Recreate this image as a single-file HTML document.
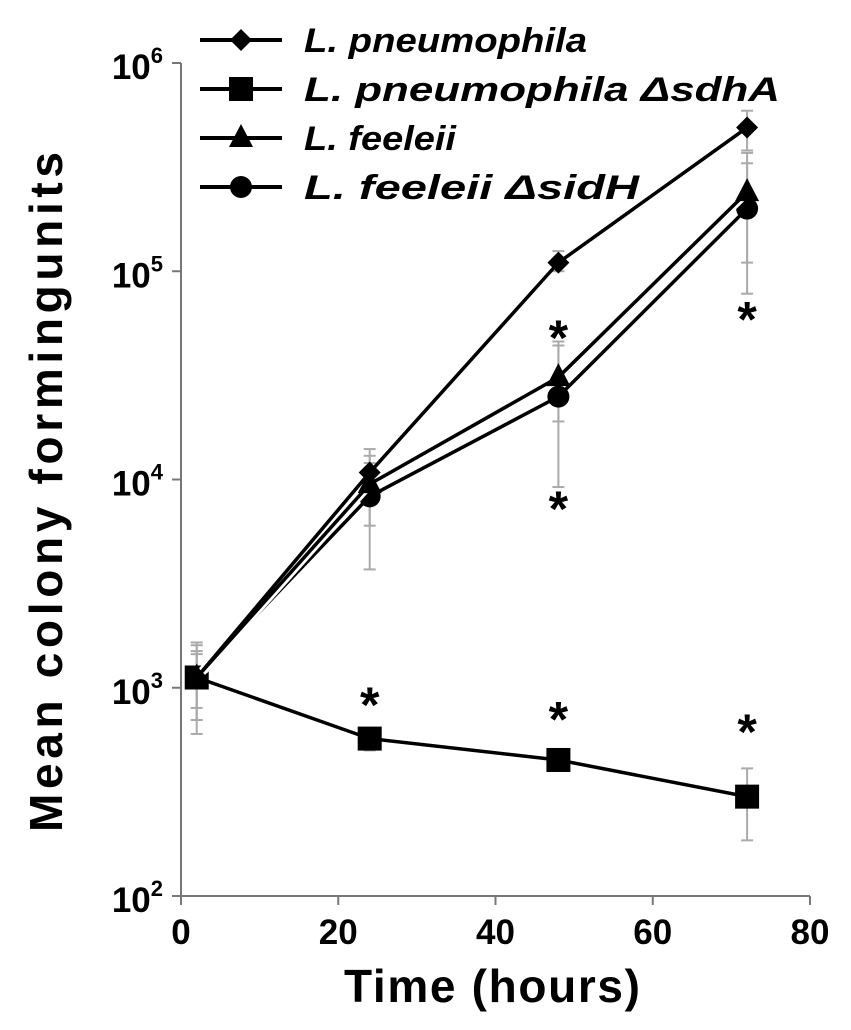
<!DOCTYPE html>
<html><head><meta charset="utf-8"><style>
html,body{margin:0;padding:0;background:#fff;}
svg{display:block;font-family:"Liberation Sans",sans-serif;}
</style></head><body>
<svg id="chart" width="851" height="1030"></svg>
<script>
const times=[2,24,48,72];
const seriesNames=["L. pneumophila","L. pneumophila ΔsdhA","L. feeleii","L. feeleii ΔsidH"];
const lpVals=[1120,10800,110000,490000];
const sdhaVals=[1120,570,450,300];
const lfVals=[1120,9500,31000,240000];
const sidhVals=[1120,8300,25000,200000];
const lpHi=[1600,14000,125000,590000];
const lpLo=[800,8500,100000,380000];
const sdhaHi=[1650,640,500,410];
const sdhaLo=[600,500,400,185];
const lfHi=[1500,13000,46000,370000];
const lfLo=[700,6000,19000,110000];
const sidhHi=[1450,12000,44000,330000];
const sidhLo=[700,3700,9200,78000];
const xTicks=[0,20,40,60,80];
const yTicks=[2,3,4,5,6];
const stars=[[24,3.0],[48,4.76],[48,3.94],[48,2.93],[72,4.85],[72,2.87]];

const NS="http://www.w3.org/2000/svg";
const svg=document.getElementById('chart');
const X0=181,X1=810,Y0=896,Y1=63;
const xs=t=>X0+(t/80)*(X1-X0);
const ys=v=>Y0-(Math.log10(v)-2)/4*(Y0-Y1);
const ysl=l=>Y0-(l-2)/4*(Y0-Y1);
function mk(tag,attrs,parent){const e=document.createElementNS(NS,tag);for(const k in attrs)e.setAttribute(k,attrs[k]);(parent||svg).appendChild(e);return e;}

let ax=mk('line',{x1:X0,y1:Y1,x2:X0,y2:Y0,stroke:'#777','stroke-width':2});


let axx=mk('line',{x1:X0,y1:Y0,x2:X1,y2:Y0,stroke:'#777','stroke-width':2});


xTicks.forEach(t=>{
  mk('line',{x1:xs(t),y1:Y0,x2:xs(t),y2:Y0+9,stroke:'#777','stroke-width':2});
  const tx=mk('text',{x:xs(t),y:Y0+48,'text-anchor':'middle','font-size':35,'font-weight':'bold'});
  tx.textContent=t;
  
  
});
yTicks.forEach(l=>{
  mk('line',{x1:X0-9,y1:ysl(l),x2:X0,y2:ysl(l),stroke:'#777','stroke-width':2});
  const tx=mk('text',{x:X0-18,y:ysl(l)+16,'text-anchor':'end','font-size':35,'font-weight':'bold'});
  tx.innerHTML='10<tspan dy="-16" font-size="22">'+l+'</tspan>';
  
  
});
let xl=mk('text',{x:492,y:1002,'text-anchor':'middle','font-size':46,'font-weight':'bold',textLength:296});
xl.textContent='Time (hours)';


let yl=mk('text',{x:0,y:0,'text-anchor':'middle','font-size':46,'font-weight':'bold',textLength:680,transform:'translate(62,492) rotate(-90)'});
yl.textContent='Mean colony formingunits';



const allS=[[lpVals,lpHi,lpLo],[sdhaVals,sdhaHi,sdhaLo],[lfVals,lfHi,lfLo],[sidhVals,sidhHi,sidhLo]];
allS.forEach((s,si)=>{
  times.forEach((t,i)=>{
    const x=xs(t);
    const g=mk('g',{stroke:'#aaa','stroke-width':2});
    
    
    mk('line',{x1:x,y1:ys(s[1][i]),x2:x,y2:ys(s[2][i])},g);
    mk('line',{x1:x-6,y1:ys(s[1][i]),x2:x+6,y2:ys(s[1][i])},g);
    mk('line',{x1:x-6,y1:ys(s[2][i]),x2:x+6,y2:ys(s[2][i])},g);
  });
});

function marker(type,x,y,g){
  if(type===0) return mk('polygon',{points:`${x},${y-11} ${x+11},${y} ${x},${y+11} ${x-11},${y}`,fill:'#000'},g);
  if(type===1) return mk('rect',{x:x-12,y:y-12,width:24,height:24,fill:'#000'},g);
  if(type===2) return mk('polygon',{points:`${x},${y-14} ${x+12},${y+9} ${x-12},${y+9}`,fill:'#000'},g);
  return mk('circle',{cx:x,cy:y,r:11,fill:'#000'},g);
}
const order=[1,3,2,0];
order.forEach(si=>{
  const vals=allS[si][0];
  const g=mk('g',{});
  
  
  const pts=times.map((t,i)=>xs(t)+','+ys(vals[i])).join(' ');
  if(si===2||si===3) mk('polyline',{points:pts,fill:'none',stroke:'#fff','stroke-width':9},g);
  mk('polyline',{points:pts,fill:'none',stroke:'#000','stroke-width':3.5},g);
  times.forEach((t,i)=>{const m=marker(si,xs(t),ys(vals[i]),g);
    
    });
});
stars.forEach(s=>{
  const tx=mk('text',{x:xs(s[0]),y:ysl(s[1])+34,'text-anchor':'middle','font-size':50,'font-weight':'bold'});
  tx.textContent='*';
  
  
});

const legY=[40,89,138,187];
const legLabels=['L. pneumophila','L. pneumophila ΔsdhA','L. feeleii','L. feeleii ΔsidH'];
const legW=[283,476,152,335];
legY.forEach((y,i)=>{
  const g=mk('g',{});
  
  
  mk('line',{x1:200,y1:y,x2:282,y2:y,stroke:'#000','stroke-width':4},g);
  marker(i,241,y,g);
  const tx=mk('text',{x:304,y:y+12,'font-size':34,'font-weight':'bold','font-style':'italic',textLength:legW[i],lengthAdjust:'spacingAndGlyphs'},g);
  tx.textContent=legLabels[i];
});
</script>
</body></html>
